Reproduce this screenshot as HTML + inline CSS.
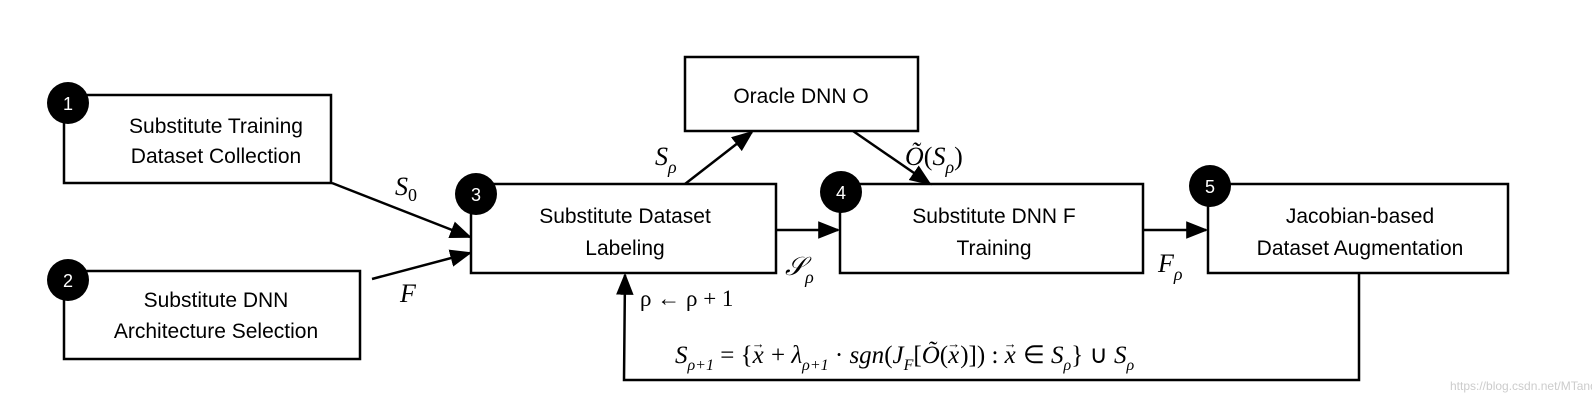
<!DOCTYPE html>
<html><head><meta charset="utf-8"><style>
body{margin:0;background:#fff}
svg text{font-family:"Liberation Sans",sans-serif}
.m{font-family:"Liberation Serif",serif;font-style:italic}
.r{font-family:"Liberation Serif",serif;font-style:normal}
</style></head><body>
<svg width="1592" height="411" viewBox="0 0 1592 411" xmlns="http://www.w3.org/2000/svg">
<defs>
<marker id="b" viewBox="0 0 10 10" refX="9" refY="5" markerWidth="22" markerHeight="22" markerUnits="userSpaceOnUse" orient="auto"><path d="M0,1 L10,5 L0,9 z" fill="#000"/></marker></defs>
<g fill="none" stroke="#000" stroke-width="2.5">
<rect x="64" y="95" width="267" height="88"/>
<rect x="64" y="271" width="296" height="88"/>
<rect x="471" y="184" width="305" height="89"/>
<rect x="685" y="57" width="233" height="74"/>
<rect x="840" y="184" width="303" height="89"/>
<rect x="1208" y="184" width="300" height="89"/>
<line x1="332" y1="183" x2="470" y2="237" marker-end="url(#b)"/>
<line x1="372" y1="279" x2="470" y2="253" marker-end="url(#b)"/>
<line x1="685" y1="184" x2="752" y2="132" marker-end="url(#b)"/>
<line x1="853" y1="131" x2="930" y2="184" marker-end="url(#b)"/>
<line x1="776" y1="230" x2="838" y2="230" marker-end="url(#b)"/>
<line x1="1143" y1="230" x2="1206" y2="230" marker-end="url(#b)"/>
<polyline points="1359,273 1359,380 624,380 625,275" marker-end="url(#b)"/>
</g>
<g fill="#000">
<circle cx="68" cy="103" r="21"/><circle cx="68" cy="280" r="21"/>
<circle cx="476" cy="194" r="21"/><circle cx="841" cy="192" r="21"/><circle cx="1210" cy="186" r="21"/>
</g>
<g fill="#fff" font-size="18" text-anchor="middle">
<text x="68" y="110">1</text><text x="68" y="287">2</text><text x="476" y="201">3</text><text x="841" y="199">4</text><text x="1210" y="193">5</text>
</g>
<g font-size="21" text-anchor="middle" fill="#000">
<text x="216" y="133">Substitute Training</text><text x="216" y="163">Dataset Collection</text>
<text x="216" y="307">Substitute DNN</text><text x="216" y="338">Architecture Selection</text>
<text x="625" y="223">Substitute Dataset</text><text x="625" y="255">Labeling</text>
<text x="801" y="103">Oracle DNN O</text>
<text x="994" y="223">Substitute DNN F</text><text x="994" y="255">Training</text>
<text x="1360" y="223">Jacobian-based</text><text x="1360" y="255">Dataset Augmentation</text>
</g>
<g font-size="26" fill="#000">
<text class="m" x="395" y="195">S<tspan class="r" font-size="18" dy="6">0</tspan></text>
<text class="m" x="400" y="302">F</text>
<text class="m" x="655" y="165">S<tspan font-size="18" dy="8">ρ</tspan></text>
<text class="m" x="905" y="165">Õ<tspan class="r">(</tspan>S<tspan font-size="18" dy="8">ρ</tspan><tspan class="r" dy="-8">)</tspan></text>
<text class="m" x="785" y="275">𝒮<tspan font-size="18" dy="8">ρ</tspan></text>
<text class="m" x="1158" y="272">F<tspan font-size="18" dy="8">ρ</tspan></text>
<text class="r" x="640" y="306" font-size="23">ρ ← ρ + 1</text>
<text class="m" x="675" y="363" font-size="25">S<tspan font-size="16" dy="7">ρ+1</tspan><tspan class="r" dy="-7"> = {</tspan>x<tspan class="r" font-size="13" dx="-12" dy="-15">→</tspan><tspan class="r" dy="15"> + </tspan>λ<tspan font-size="16" dy="7">ρ+1</tspan><tspan class="r" dy="-7"> · </tspan>sgn<tspan class="r">(</tspan>J<tspan font-size="16" dy="7">F</tspan><tspan class="r" dy="-7">[</tspan>Õ<tspan class="r">(</tspan>x<tspan class="r" font-size="13" dx="-12" dy="-15">→</tspan><tspan class="r" dy="15">)]) : </tspan>x<tspan class="r" font-size="13" dx="-12" dy="-15">→</tspan><tspan class="r" dy="15"> ∈ </tspan>S<tspan font-size="16" dy="7">ρ</tspan><tspan class="r" dy="-7">} ∪ </tspan>S<tspan font-size="16" dy="7">ρ</tspan></text>
</g>
<text x="1450" y="390" font-size="12" fill="#ccc">https://blog.csdn.net/MTandHJ</text>
</svg>
</body></html>
